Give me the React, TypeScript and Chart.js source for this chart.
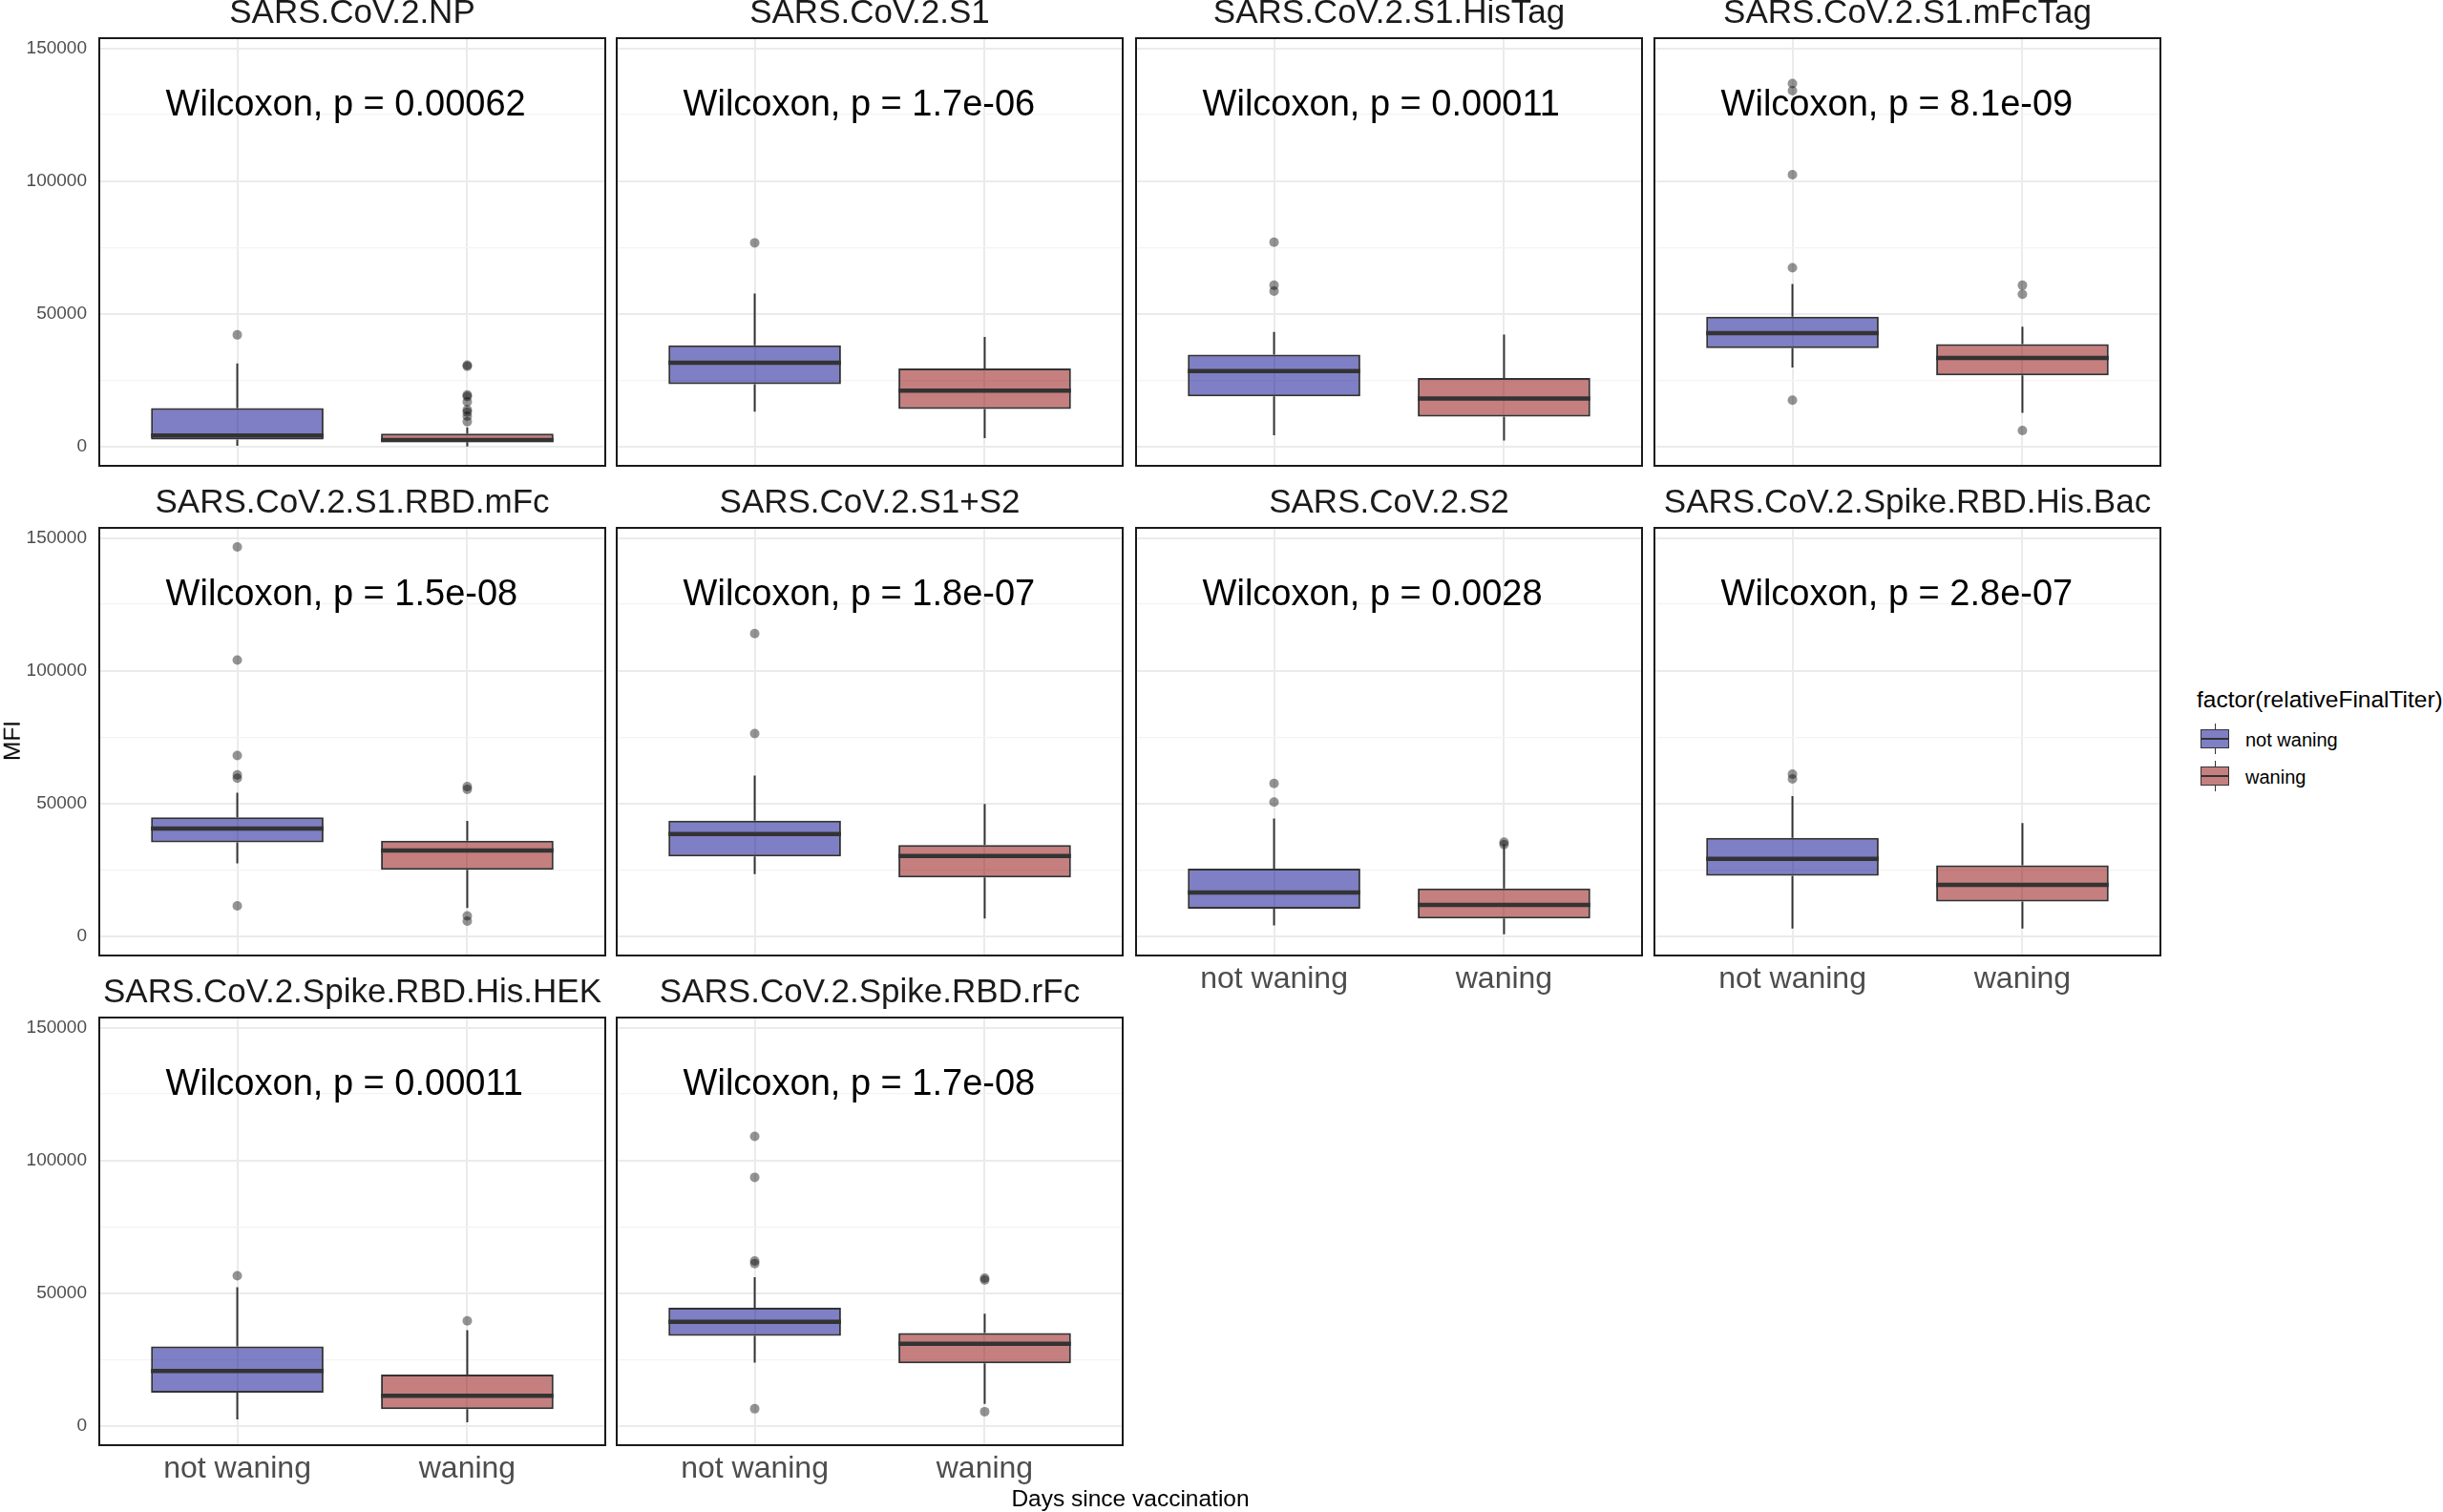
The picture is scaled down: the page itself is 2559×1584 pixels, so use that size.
import { useEffect, useRef } from 'react'
import { Chart, registerables } from 'chart.js'

Chart.register(...registerables)

// facet titles and test results
const panelTitles = [
  'SARS.CoV.2.NP',
  'SARS.CoV.2.S1',
  'SARS.CoV.2.S1.HisTag',
  'SARS.CoV.2.S1.mFcTag',
  'SARS.CoV.2.S1.RBD.mFc',
  'SARS.CoV.2.S1+S2',
  'SARS.CoV.2.S2',
  'SARS.CoV.2.Spike.RBD.His.Bac',
  'SARS.CoV.2.Spike.RBD.His.HEK',
  'SARS.CoV.2.Spike.RBD.rFc'
]
const pValues = ['0.00062', '1.7e-06', '0.00011', '8.1e-09', '1.5e-08', '1.8e-07', '0.0028', '2.8e-07', '0.00011', '1.7e-08']
const groups = ['not waning', 'waning']

// box statistics, one value per panel
const notWaningLow = [200, 13100, 4200, 29700, 27400, 23300, 4000, 2800, 2400, 23800]
const notWaningQ1 = [2600, 23400, 18800, 37000, 35300, 30000, 10300, 22700, 12500, 33900]
const notWaningMedian = [4100, 31500, 28400, 42700, 40500, 38400, 16400, 29100, 20600, 39200]
const notWaningQ3 = [14400, 38100, 34600, 48900, 44700, 43500, 25400, 37000, 29900, 44500]
const notWaningHigh = [31250, 57600, 43100, 61200, 54000, 60500, 44300, 52700, 52200, 56000]
const notWaningOutliers = [
  [42000],
  [76700],
  [76900, 60700, 58500],
  [136700, 134000, 102400, 67300, 17400],
  [146600, 104000, 68000, 60700, 59500, 11400],
  [114000, 76300],
  [57500, 50500],
  [61000, 59200],
  [56500],
  [109000, 93600, 62100, 61100, 6400]
]

const waningLow = [0, 3100, 2200, 12600, 10600, 6600, 700, 2800, 1300, 8200]
const waningQ1 = [1600, 14100, 11200, 26800, 25000, 22100, 6600, 13000, 6300, 23500]
const waningMedian = [2400, 21000, 18000, 33300, 32200, 30200, 11700, 19300, 11300, 30900]
const waningQ3 = [4800, 29400, 25800, 38500, 35900, 34300, 17900, 26700, 19300, 34900]
const waningHigh = [7200, 41200, 42100, 45100, 43400, 49800, 34800, 42600, 36000, 42200]
const waningOutliers = [
  [30600, 30200, 19400, 18800, 16800, 13800, 12900, 11400, 9300],
  [],
  [],
  [60700, 57300, 6000],
  [56300, 55300, 7600, 5600],
  [],
  [35400, 34500],
  [],
  [39500],
  [55600, 54900, 5300]
]

const yTicks = [0, 25000, 50000, 75000, 100000, 125000, 150000]
const Y_MIN = -7320
const Y_MAX = 153800

const FONT = "'Liberation Sans', Arial, sans-serif"
const colLeft = [104, 646, 1190, 1733]
const rowTop = [39.5, 552.5, 1065.5]
const PANEL_W = 530
const PANEL_H = 448
const PAD_L = 110
const PAD_T = 47
const PAD_R = 6
const PAD_B = 62
const CANVAS_W = PAD_L + PANEL_W + PAD_R
const CANVAS_H = PAD_T + PANEL_H + PAD_B
const fills = ['rgba(0,0,139,0.5)', 'rgba(139,0,0,0.5)']
const legendFills = ['rgb(127,127,197)', 'rgb(197,127,127)']

function Panel({ index }: { index: number }) {
  const chartRef = useRef<HTMLCanvasElement>(null)
  const col = index % 4
  const row = Math.floor(index / 4)

  useEffect(() => {
    if (!chartRef.current) return
    const showY = col === 0
    const showX = index >= 6

    const lows = [notWaningLow[index], waningLow[index]]
    const q1s = [notWaningQ1[index], waningQ1[index]]
    const medians = [notWaningMedian[index], waningMedian[index]]
    const q3s = [notWaningQ3[index], waningQ3[index]]
    const highs = [notWaningHigh[index], waningHigh[index]]
    const outliers = [
      ...notWaningOutliers[index].map((v) => ({ x: 1, y: v })),
      ...waningOutliers[index].map((v) => ({ x: 2, y: v }))
    ]

    const boxExtras = {
      id: 'boxExtras',
      afterDatasetsDraw(chart: any) {
        const { ctx, scales } = chart
        const xs = scales.x
        const ys = scales.y
        const half = 0.375
        ctx.save()
        for (let g = 0; g < 2; g++) {
          const cx = xs.getPixelForValue(g + 1)
          // whiskers
          ctx.strokeStyle = '#333333'
          ctx.lineWidth = 2
          ctx.beginPath()
          ctx.moveTo(cx, ys.getPixelForValue(q3s[g]))
          ctx.lineTo(cx, ys.getPixelForValue(highs[g]))
          ctx.moveTo(cx, ys.getPixelForValue(q1s[g]))
          ctx.lineTo(cx, ys.getPixelForValue(lows[g]))
          ctx.stroke()
          // median
          ctx.lineWidth = 4.5
          ctx.beginPath()
          const my = ys.getPixelForValue(medians[g])
          ctx.moveTo(xs.getPixelForValue(g + 1 - half), my)
          ctx.lineTo(xs.getPixelForValue(g + 1 + half), my)
          ctx.stroke()
        }
        // test label
        ctx.fillStyle = '#000000'
        ctx.font = `38px ${FONT}`
        ctx.textAlign = 'left'
        ctx.textBaseline = 'alphabetic'
        ctx.fillText(`Wilcoxon, p = ${pValues[index]}`, xs.getPixelForValue(0.689), ys.getPixelForValue(124700))
        ctx.restore()
      },
      afterDraw(chart: any) {
        const { ctx, chartArea } = chart
        ctx.save()
        ctx.strokeStyle = '#1a1a1a'
        ctx.lineWidth = 2
        ctx.strokeRect(chartArea.left, chartArea.top, chartArea.right - chartArea.left, chartArea.bottom - chartArea.top)
        ctx.restore()
      }
    }

    const chart = new Chart(chartRef.current, {
      type: 'bar',
      data: {
        datasets: [
          {
            type: 'bar' as const,
            data: [
              { x: 1, y: [q1s[0], q3s[0]] },
              { x: 2, y: [q1s[1], q3s[1]] }
            ] as any,
            backgroundColor: fills,
            borderColor: '#333333',
            borderWidth: 2,
            borderSkipped: false,
            categoryPercentage: 0.75,
            barPercentage: 1,
            order: 2
          },
          {
            type: 'scatter' as const,
            data: outliers,
            pointRadius: 5,
            pointHoverRadius: 5,
            backgroundColor: 'rgba(0,0,0,0.42)',
            borderWidth: 0,
            order: 1
          }
        ]
      },
      options: {
        responsive: false,
        maintainAspectRatio: false,
        animation: false,
        events: [],
        layout: { padding: { left: 0, right: PAD_R, top: 0, bottom: 0 } },
        plugins: {
          legend: { display: false },
          tooltip: { enabled: false },
          title: {
            display: true,
            text: panelTitles[index],
            fullSize: false,
            color: '#1a1a1a',
            font: { family: FONT, size: 35, weight: 'normal', lineHeight: 1.2 },
            padding: { top: 0, bottom: 5 }
          }
        },
        scales: {
          x: {
            type: 'linear',
            min: 0.4,
            max: 2.6,
            offset: false,
            afterBuildTicks: (scale: any) => {
              scale.ticks = [{ value: 1 }, { value: 2 }]
            },
            afterFit: (scale: any) => {
              scale.height = PAD_B
            },
            grid: { color: '#ebebeb', lineWidth: 2, drawTicks: false, offset: false },
            border: { display: false },
            ticks: {
              display: showX,
              color: '#4d4d4d',
              padding: 6,
              font: { family: FONT, size: 32 },
              callback: (_v: any, i: number) => groups[i]
            }
          },
          y: {
            min: Y_MIN,
            max: Y_MAX,
            afterBuildTicks: (scale: any) => {
              scale.ticks = yTicks.map((v) => ({ value: v }))
            },
            afterFit: (scale: any) => {
              scale.width = PAD_L
            },
            grid: {
              color: (c: any) => (c.tick && c.tick.value % 50000 === 0 ? '#ebebeb' : '#f3f3f3'),
              lineWidth: (c: any) => (c.tick && c.tick.value % 50000 === 0 ? 2 : 1.2),
              drawTicks: false
            },
            border: { display: false },
            ticks: {
              display: showY,
              color: '#4d4d4d',
              padding: 13,
              font: { family: FONT, size: 19 },
              callback: (v: any) => (Number(v) % 50000 === 0 ? String(v) : '')
            }
          }
        }
      } as any,
      plugins: [boxExtras]
    })

    return () => {
      chart.destroy()
    }
  }, [index, col])

  return (
    <canvas
      ref={chartRef}
      width={CANVAS_W}
      height={CANVAS_H}
      style={{
        position: 'absolute',
        left: colLeft[col] - PAD_L,
        top: rowTop[row] - PAD_T,
        width: CANVAS_W,
        height: CANVAS_H
      }}
    />
  )
}

function Text({ x, y, size, children, anchor = 'center', rotate = 0 }: any) {
  const tx = anchor === 'left' ? '0' : '-50%'
  return (
    <div
      style={{
        position: 'absolute',
        left: x,
        top: y,
        fontFamily: FONT,
        fontSize: size,
        lineHeight: 1,
        whiteSpace: 'nowrap',
        color: '#000',
        transform: `translate(${tx}, -50%) rotate(${rotate}deg)`,
        transformOrigin: anchor === 'left' ? 'left center' : 'center center'
      }}
    >
      {children}
    </div>
  )
}

function LegendKey({ y, fill }: { y: number; fill: string }) {
  return (
    <>
      <div style={{ position: 'absolute', left: 2319.5, top: y - 16, width: 1.5, height: 32, background: '#333' }} />
      <div
        style={{
          position: 'absolute',
          left: 2305,
          top: y - 10,
          width: 30,
          height: 20,
          boxSizing: 'border-box',
          background: fill,
          border: '1.5px solid #333'
        }}
      />
      <div style={{ position: 'absolute', left: 2305, top: y - 1, width: 30, height: 2, background: '#333' }} />
    </>
  )
}

export default function App() {
  return (
    <div
      style={{
        position: 'absolute',
        left: 0,
        top: 0,
        width: 2559,
        height: 1584,
        background: '#fff',
        overflow: 'hidden'
      }}
    >
      {panelTitles.map((_, i) => (
        <Panel key={i} index={i} />
      ))}
      <Text x={13} y={776} size={24.5} rotate={-90}>MFI</Text>
      <Text x={1184} y={1570} size={24.5}>Days since vaccination</Text>
      <Text x={2301} y={733} size={24.5} anchor="left">factor(relativeFinalTiter)</Text>
      <LegendKey y={774} fill={legendFills[0]} />
      <LegendKey y={813} fill={legendFills[1]} />
      <Text x={2352} y={775} size={20} anchor="left">{groups[0]}</Text>
      <Text x={2352} y={814} size={20} anchor="left">{groups[1]}</Text>
    </div>
  )
}
